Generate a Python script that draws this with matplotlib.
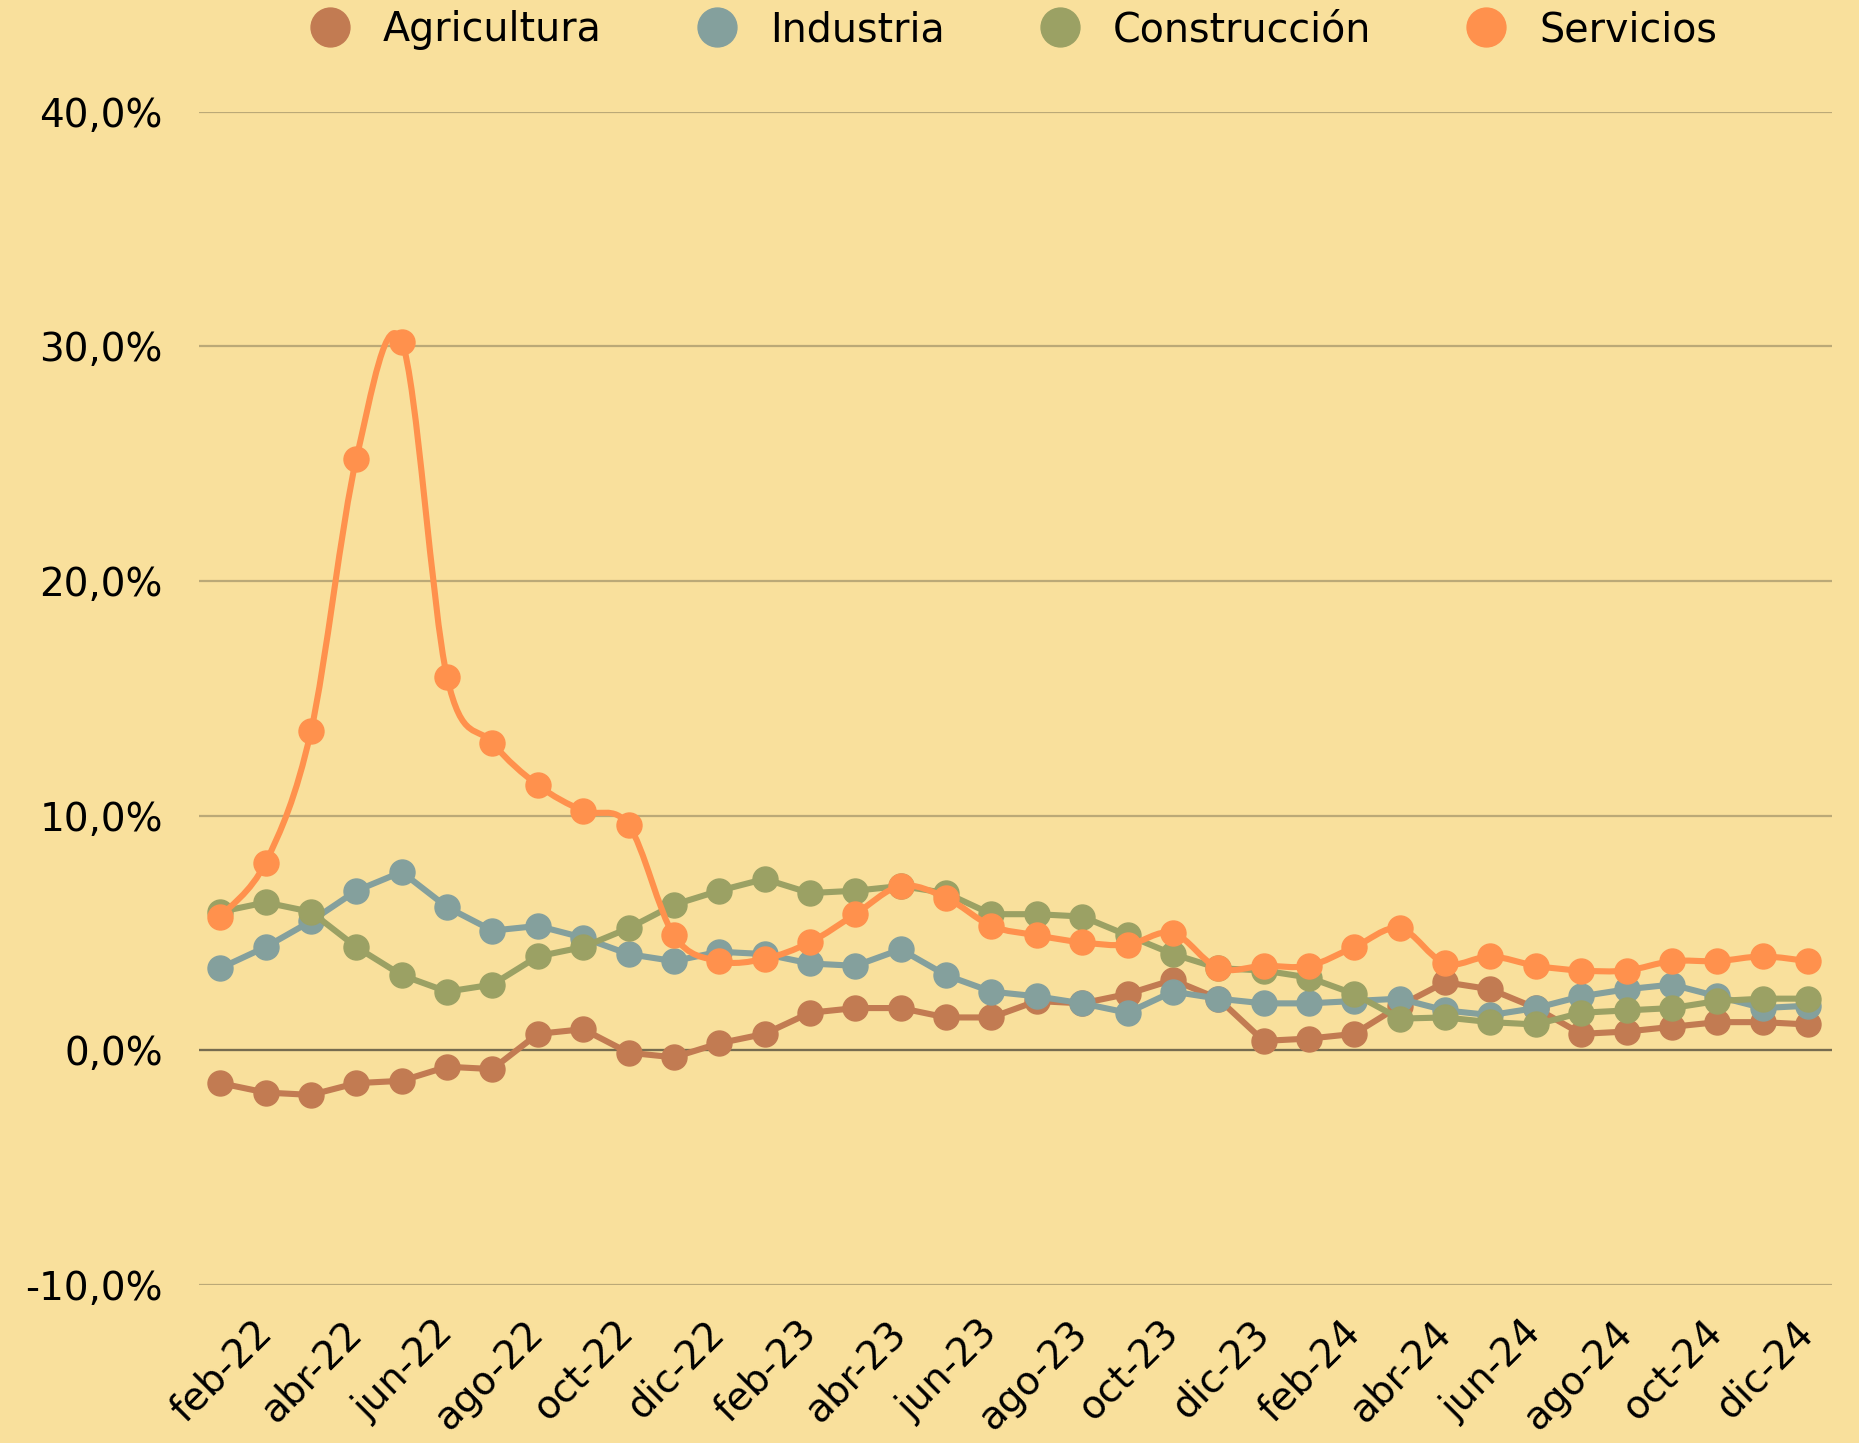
import matplotlib.pyplot as plt
import numpy as np
from matplotlib.lines import Line2D
from matplotlib.path import Path
from matplotlib.patches import PathPatch
from matplotlib.ticker import FuncFormatter

plt.rcParams['font.family'] = ['DejaVu Sans']

months = ['ene', 'feb', 'mar', 'abr', 'may', 'jun', 'jul', 'ago', 'sep', 'oct', 'nov', 'dic']
years = ['22', '23', '24']
labels = [f'{m}-{y}' for y in years for m in months]

agricultura = [-1.4, -1.8, -1.9, -1.4, -1.3, -0.7, -0.8, 0.7, 0.9, -0.1, -0.3, 0.3,
               0.7, 1.6, 1.8, 1.8, 1.4, 1.4, 2.1, 2.0, 2.4, 3.0, 2.2, 0.4,
               0.5, 0.7, 1.9, 2.9, 2.6, 1.8, 0.7, 0.8, 1.0, 1.2, 1.2, 1.1]
industria = [3.5, 4.4, 5.5, 6.8, 7.6, 6.1, 5.1, 5.3, 4.8, 4.1, 3.8, 4.2,
             4.1, 3.7, 3.6, 4.3, 3.2, 2.5, 2.3, 2.0, 1.6, 2.5, 2.2, 2.0,
             2.0, 2.1, 2.2, 1.7, 1.5, 1.8, 2.3, 2.6, 2.8, 2.3, 1.8, 1.9]
construccion = [5.9, 6.3, 5.9, 4.4, 3.2, 2.5, 2.8, 4.0, 4.4, 5.2, 6.2, 6.8,
                7.3, 6.7, 6.8, 7.0, 6.7, 5.8, 5.8, 5.7, 4.9, 4.1, 3.5, 3.4,
                3.1, 2.4, 1.35, 1.4, 1.2, 1.1, 1.6, 1.7, 1.8, 2.1, 2.2, 2.2]
servicios = [5.7, 8.0, 13.6, 25.2, 30.2, 15.9, 13.1, 11.3, 10.2, 9.6, 4.9, 3.8,
             3.9, 4.6, 5.8, 7.0, 6.5, 5.3, 4.9, 4.6, 4.5, 5.0, 3.5, 3.6,
             3.6, 4.4, 5.2, 3.7, 4.0, 3.6, 3.4, 3.4, 3.8, 3.8, 4.0, 3.8]

series = [('Agricultura', agricultura, '#C27B52'),
          ('Industria', industria, '#84A09D'),
          ('Construcción', construccion, '#9BA164'),
          ('Servicios', servicios, '#FF914D')]

bg = '#F9E09C'


def smooth_path(x, y):
    pts = np.column_stack([x, y])
    n = len(pts)
    verts = [pts[0]]
    codes = [Path.MOVETO]
    for i in range(n - 1):
        p0 = pts[max(i - 1, 0)]
        p1 = pts[i]
        p2 = pts[i + 1]
        p3 = pts[min(i + 2, n - 1)]
        c1 = p1 + (p2 - p0) / 6
        c2 = p2 - (p3 - p1) / 6
        verts += [c1, c2, p2]
        codes += [Path.CURVE4] * 3
    return Path(verts, codes)


fig = plt.figure(figsize=(18.59, 14.43), dpi=100, facecolor=bg)
ax = fig.add_axes([0.107, 0.1095, 0.8785, 0.8132])
ax.set_facecolor(bg)

x = np.arange(len(labels))
lw = 4.4
ms = 18
for name, vals, color in series:
    if name == 'Servicios':
        ax.add_patch(PathPatch(smooth_path(x, vals), facecolor='none', edgecolor=color,
                               lw=lw, capstyle='round', joinstyle='round', zorder=3))
        ax.plot(x, vals, linestyle='none', marker='o', ms=ms, color=color, zorder=3)
    else:
        ax.plot(x, vals, '-o', color=color, lw=lw, ms=ms, zorder=3,
                solid_joinstyle='round', solid_capstyle='round')

ax.set_xlim(-0.47, 35.53)
ax.set_ylim(-10, 40)
ax.set_yticks(np.arange(-10, 41, 10))
ax.yaxis.set_major_formatter(FuncFormatter(lambda v, p: f'{v:.1f}%'.replace('.', ',')))
ax.grid(axis='y', color='#BBA977', lw=1.6, zorder=1)
ax.axhline(0, color='#766C50', lw=1.6, zorder=2)

ax.set_xticks(x[1::2])
ax.set_xticklabels(labels[1::2], rotation=45, ha='right', va='center', rotation_mode='anchor')

for s in ax.spines.values():
    s.set_visible(False)
ax.tick_params(axis='both', length=0, labelsize=28, colors='black')
ax.tick_params(axis='y', pad=26)
ax.tick_params(axis='x', pad=30)

handles = [Line2D([], [], linestyle='none', marker='o', ms=28, color=c) for _, _, c in series]
fig.legend(handles, [n for n, _, _ in series], loc='center', bbox_to_anchor=(0.54, 0.979),
           ncol=4, frameon=False, fontsize=28.5, handletextpad=0.35, columnspacing=1.9)

fig.savefig('out.png', dpi=100, facecolor=bg)
